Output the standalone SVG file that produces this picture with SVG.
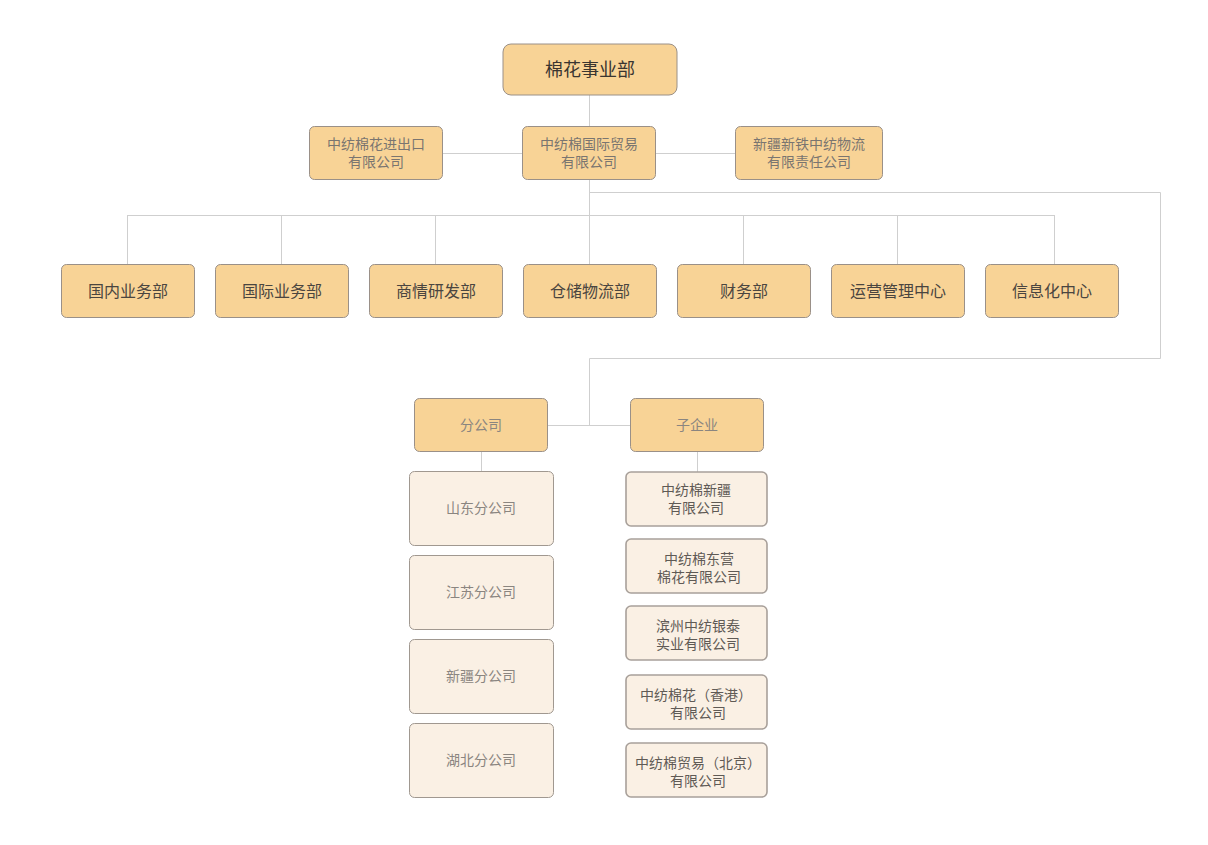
<svg xmlns="http://www.w3.org/2000/svg" width="1208" height="845" viewBox="0 0 1208 845">
<style>
text{font-family:"Noto Sans CJK SC","Noto Sans",sans-serif;text-anchor:middle}
.n{fill:#f8d396;stroke:#9a9088;stroke-width:1}
.l{fill:#faf0e4;stroke:#a09890;stroke-width:1}
.s{fill:#faf0e4;stroke:#a8a09a;stroke-width:1.6}
.t1{font-size:18px;fill:#3a3530}
.t2{font-size:14px;fill:#7a7570}
.t3{font-size:16px;fill:#4a4540}
.t4{font-size:14px;fill:#8a8580}
.t5{font-size:14px;fill:#5f5a55}
.c{fill:none;stroke:#cfcfcf;stroke-width:1}
</style>
<rect width="1208" height="845" fill="#ffffff"/>
<g id="connectors">
<path class="c" d="M589.5 95V127M442 153.5H523M655 153.5H735M589.5 179V264M127.5 215.5H1054.5M127.5 215V264M281.5 215V264M435.5 215V264M743.5 215V264M897.5 215V264M1054.5 215V264M589.5 192.5H1160.5V358.5H589.5V425.5M547 425.5H630M481.5 451V472M697.5 451V472"/>
</g>
<g id="n-root"><rect class="n" x="503" y="44" width="174" height="51" rx="8"/><text class="t1" x="590" y="76">棉花事业部</text></g>
<g id="n-import"><rect class="n" x="309.5" y="126.5" width="133" height="53" rx="5"/><text class="t2" x="376" y="149">中纺棉花进出口</text><text class="t2" x="376" y="167">有限公司</text></g>
<g id="n-intl"><rect class="n" x="522.5" y="126.5" width="133" height="53" rx="5"/><text class="t2" x="589" y="149">中纺棉国际贸易</text><text class="t2" x="589" y="167">有限公司</text></g>
<g id="n-xj"><rect class="n" x="735.5" y="126.5" width="147" height="53" rx="5"/><text class="t2" x="809" y="149">新疆新铁中纺物流</text><text class="t2" x="809" y="167">有限责任公司</text></g>
<g id="d1"><rect class="n" x="61.5" y="264.5" width="133" height="53" rx="5"/><text class="t3" x="128" y="297">国内业务部</text></g>
<g id="d2"><rect class="n" x="215.5" y="264.5" width="133" height="53" rx="5"/><text class="t3" x="282" y="297">国际业务部</text></g>
<g id="d3"><rect class="n" x="369.5" y="264.5" width="133" height="53" rx="5"/><text class="t3" x="436" y="297">商情研发部</text></g>
<g id="d4"><rect class="n" x="523.5" y="264.5" width="133" height="53" rx="5"/><text class="t3" x="590" y="297">仓储物流部</text></g>
<g id="d5"><rect class="n" x="677.5" y="264.5" width="133" height="53" rx="5"/><text class="t3" x="744" y="297">财务部</text></g>
<g id="d6"><rect class="n" x="831.5" y="264.5" width="133" height="53" rx="5"/><text class="t3" x="898" y="297">运营管理中心</text></g>
<g id="d7"><rect class="n" x="985.5" y="264.5" width="133" height="53" rx="5"/><text class="t3" x="1052" y="297">信息化中心</text></g>
<g id="branch"><rect class="n" x="414.5" y="398.5" width="133" height="53" rx="5"/><text class="t4" x="481" y="430">分公司</text></g>
<g id="sub"><rect class="n" x="630.5" y="398.5" width="133" height="53" rx="5"/><text class="t4" x="697" y="430">子企业</text></g>
<g id="b1"><rect class="l" x="409.5" y="471.5" width="144" height="74" rx="5"/><text class="t4" x="481" y="513">山东分公司</text></g>
<g id="b2"><rect class="l" x="409.5" y="555.5" width="144" height="74" rx="5"/><text class="t4" x="481" y="597">江苏分公司</text></g>
<g id="b3"><rect class="l" x="409.5" y="639.5" width="144" height="74" rx="5"/><text class="t4" x="481" y="681">新疆分公司</text></g>
<g id="b4"><rect class="l" x="409.5" y="723.5" width="144" height="74" rx="5"/><text class="t4" x="481" y="765">湖北分公司</text></g>
<g id="s1"><rect class="s" x="626" y="472" width="141" height="54" rx="5"/><text class="t5" x="696" y="495">中纺棉新疆</text><text class="t5" x="696" y="513">有限公司</text></g>
<g id="s2"><rect class="s" x="626" y="539" width="141" height="54" rx="5"/><text class="t5" x="699" y="564">中纺棉东营</text><text class="t5" x="699" y="582">棉花有限公司</text></g>
<g id="s3"><rect class="s" x="626" y="606" width="141" height="54" rx="5"/><text class="t5" x="698" y="631">滨州中纺银泰</text><text class="t5" x="698" y="649">实业有限公司</text></g>
<g id="s4"><rect class="s" x="626" y="675" width="141" height="54" rx="5"/><text class="t5" x="696" y="700">中纺棉花（香港）</text><text class="t5" x="698" y="718">有限公司</text></g>
<g id="s5"><rect class="s" x="626" y="743" width="141" height="54" rx="5"/><text class="t5" x="698" y="768">中纺棉贸易（北京）</text><text class="t5" x="698" y="786">有限公司</text></g>
</svg>
